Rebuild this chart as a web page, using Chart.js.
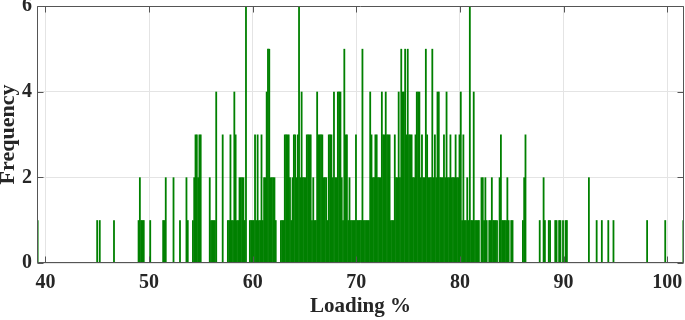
<!DOCTYPE html>
<html><head><meta charset="utf-8">
<script src="https://cdn.jsdelivr.net/npm/chart.js@4.4.1/dist/chart.umd.min.js"></script>
<style>html,body{margin:0;padding:0;background:#fff}#wrap{width:685px;height:320px}</style>
</head><body><div id="wrap"><canvas id="c" width="685" height="320"></canvas></div>
<script>
// Histogram definition: 500 bins from binStart with width binWidth
const binStart = 39.18;
const binWidth = 0.12488;
// Frequency per bin
const counts = [
1,0,0,0,0,0,0,0,0,0,0,0,0,0,0,0,0,0,0,0,
0,0,0,0,0,0,0,0,0,0,0,0,0,0,0,0,0,0,0,0,
0,0,0,0,0,0,1,0,1,0,0,0,0,0,0,0,0,0,0,1,
0,0,0,0,0,0,0,0,0,0,0,0,0,0,0,0,0,0,1,2,
1,1,1,0,0,0,0,1,0,0,0,0,0,0,0,0,0,1,1,2,
0,0,0,0,0,2,0,0,0,0,1,0,0,0,0,2,1,0,0,0,
1,2,3,3,2,3,3,0,0,0,0,0,0,2,1,1,1,1,4,0,
0,0,0,3,0,0,0,1,1,3,1,1,4,3,1,1,2,2,2,2,
1,6,0,0,1,1,1,1,3,1,3,1,1,3,1,2,2,4,5,5,
2,2,2,2,1,0,0,0,1,1,1,3,3,3,3,2,1,2,3,3,
2,3,6,2,4,2,2,2,3,3,3,3,1,2,1,1,4,3,3,3,
3,2,2,2,1,3,3,3,2,4,2,2,4,4,4,2,1,5,3,3,
1,2,1,1,1,1,3,1,1,1,1,5,1,1,1,1,1,4,3,2,
2,3,3,2,2,2,4,3,3,4,3,3,3,1,1,1,3,2,2,4,
2,5,4,4,5,3,5,3,3,3,2,2,3,4,4,4,2,3,2,2,
5,3,2,2,2,5,2,3,2,4,4,2,2,2,3,2,4,2,2,3,
2,2,2,3,2,2,3,4,1,3,1,1,2,1,6,1,1,4,1,1,
1,1,0,2,2,1,2,1,0,1,1,2,1,1,1,1,0,2,3,1,
1,1,1,2,1,0,1,1,0,0,0,0,0,0,0,1,2,3,0,0,
0,0,0,0,0,0,0,0,1,0,0,2,1,0,0,1,1,0,0,0,
1,1,0,1,1,0,1,0,1,1,0,0,0,0,0,0,0,0,0,0,
0,0,0,0,0,0,2,0,0,0,0,0,1,0,0,0,1,0,0,0,
0,1,0,0,0,1,0,0,0,0,0,0,0,0,0,0,0,0,0,0,
0,0,0,0,0,0,0,0,0,0,0,1,0,0,0,0,0,0,0,0,
0,0,0,0,0,1,0,0,0,0,0,0,0,0,0,0,0,0,0,1
];
const xTicks = [40, 50, 60, 70, 80, 90, 100];
const yTicks = [0, 2, 4, 6];
const xRange = [39.18, 101.62];
const yRange = [0, 6];
const xTitle = 'Loading %';
const yTitle = 'Frequency';

const points = counts.map((c, i) => ({ x: binStart + (i + 0.5) * binWidth, y: c }));

const boxPlugin = {
  id: 'box',
  afterDatasetsDraw(chart) {
    const { ctx, chartArea: a, scales } = chart;
    const L = Math.round(a.left) + 0.5, R = Math.round(a.right) - 0.5;
    const T = Math.round(a.top) + 0.5, B = Math.round(a.bottom) - 0.5;
    ctx.save();
    ctx.strokeStyle = '#555555';
    ctx.lineWidth = 1;
    ctx.beginPath();
    ctx.rect(L, T, R - L, B - T);
    const tl = 6;
    xTicks.forEach(v => {
      const px = Math.round(scales.x.getPixelForValue(v)) + 0.5;
      ctx.moveTo(px, B); ctx.lineTo(px, B - tl);
      ctx.moveTo(px, T); ctx.lineTo(px, T + tl);
    });
    yTicks.forEach(v => {
      const py = Math.round(scales.y.getPixelForValue(v)) + 0.5;
      ctx.moveTo(L, py); ctx.lineTo(L + tl, py);
      ctx.moveTo(R, py); ctx.lineTo(R - tl, py);
    });
    ctx.stroke();
    ctx.restore();
  }
};

const tickFont = { family: 'Liberation Serif', size: 20, weight: 'bold' };
const noPad = s => { s.paddingTop = 0; s.paddingBottom = 0; s.paddingLeft = 0; s.paddingRight = 0; };

new Chart(document.getElementById('c'), {
  type: 'bar',
  data: {
    datasets: [{
      data: points,
      backgroundColor: 'rgb(0,128,0)',
      borderWidth: 0,
      barPercentage: 1.4,
      categoryPercentage: 1
    }]
  },
  options: {
    responsive: false,
    animation: false,
    devicePixelRatio: 1,
    layout: { padding: { top: 6, right: 1, left: 0, bottom: 0 } },
    plugins: { legend: { display: false }, tooltip: { enabled: false } },
    scales: {
      x: {
        type: 'linear',
        offset: false,
        min: xRange[0], max: xRange[1],
        afterBuildTicks: s => { s.ticks = xTicks.map(v => ({ value: v })); },
        afterFit: s => { s.height = 57; noPad(s); },
        grid: { color: '#e4e4e4', drawTicks: false, offset: false },
        border: { display: false },
        ticks: { font: tickFont, color: '#262626', padding: 8, maxRotation: 0, autoSkip: false },
        title: { display: true, text: xTitle, color: '#262626',
                 font: { family: 'Liberation Serif', size: 21, weight: 'bold', lineHeight: 1.2 },
                 padding: { top: 0, bottom: 1 } }
      },
      y: {
        min: yRange[0], max: yRange[1],
        afterBuildTicks: s => { s.ticks = yTicks.map(v => ({ value: v })); },
        afterFit: s => { s.width = 37; noPad(s); },
        grid: { color: '#e4e4e4', drawTicks: false },
        border: { display: false },
        ticks: { font: tickFont, color: '#262626', padding: 5 },
        title: { display: true, text: yTitle, color: '#262626',
                 font: { family: 'Liberation Serif', size: 22, weight: 'bold', lineHeight: 0.8 },
                 padding: { top: 0, bottom: 0 } }
      }
    }
  },
  plugins: [boxPlugin]
});
</script>
</body></html>
